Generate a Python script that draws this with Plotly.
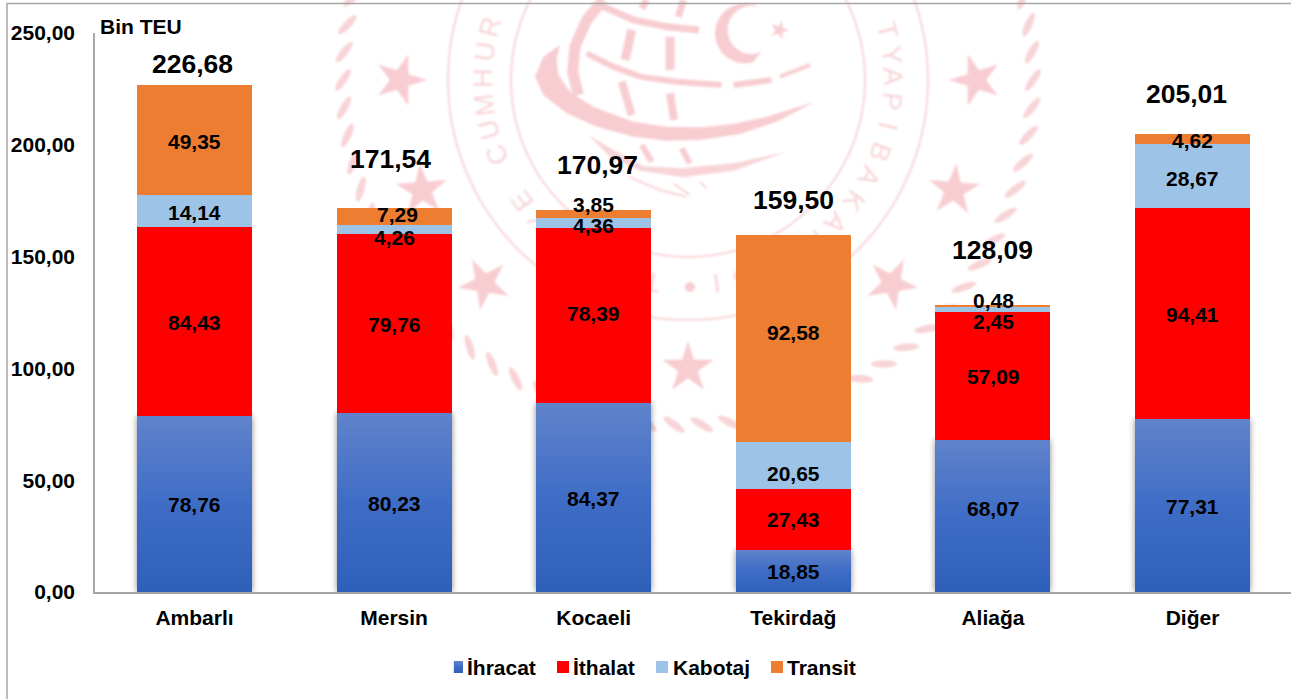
import math
import plotly.graph_objects as go

categories = ["Ambarlı", "Mersin", "Kocaeli", "Tekirdağ", "Aliağa", "Diğer"]
ihracat = [78.76, 80.23, 84.37, 18.85, 68.07, 77.31]
ithalat = [84.43, 79.76, 78.39, 27.43, 57.09, 94.41]
kabotaj = [14.14, 4.26, 4.36, 20.65, 2.45, 28.67]
transit = [49.35, 7.29, 3.85, 92.58, 0.48, 4.62]
totals = [226.68, 171.54, 170.97, 159.50, 128.09, 205.01]
series_names = ["İhracat", "İthalat", "Kabotaj", "Transit"]
series_colors = ["#3F6DC6", "#FF0000", "#9DC3E6", "#ED7D31"]
series_values = [ihracat, ithalat, kabotaj, transit]

# pixel nudges of the hand-placed labels in the original (down = positive)
label_down = [
    [1, 1.5, 1, 1, -7, 1],
    [1, 1, -2, 0.5, 0.5, 1],
    [1, 8, 2, 8, 12, 3],
    [1.5, -2, -10, -6, -6, 1.5],
]
label_right = [
    [0, 0, 0, 0, 1, 0],
    [0, 0, 0, 0, 1, 0],
    [0, 0, 0, 0, 1, 0],
    [0, 3, 0, 0, 1, 0],
]
total_up = [21, 49, 45, 35, 56, 40]
total_right = [-2, -4, 4, 0, 0, -6]

W, H = 1291, 699
L, T, B = 95, 33, 592
FONT = "Liberation Sans, Arial, sans-serif"
PINK = "#F8CDD1"
PINK2 = "#F8D4D7"


def fx(px):
    return (px - L) / (W - L)


def fy(py):
    return (B - py) / (B - T)


def path(points, close=True):
    s = "M" + " L".join(f"{fx(x):.5f},{fy(y):.5f}" for x, y in points)
    return s + (" Z" if close else "")


shapes = []


def poly(points, color=PINK):
    shapes.append(dict(type="path", xref="paper", yref="paper", layer="below", path=path(points),
                       fillcolor=color, line=dict(width=0)))


def stroke(points, width, color=PINK, layer="below"):
    shapes.append(dict(type="path", xref="paper", yref="paper", layer=layer, path=path(points, False),
                       fillcolor="rgba(0,0,0,0)", line=dict(color=color, width=width)))


def arc(cx, cy, r, a0, a1, n=60):
    return [(cx + r * math.cos(math.radians(a0 + (a1 - a0) * i / n)),
             cy + r * math.sin(math.radians(a0 + (a1 - a0) * i / n))) for i in range(n + 1)]


def star(cx, cy, R, rot):
    pts = []
    for i in range(10):
        a = math.radians(-90 + rot + 36 * i)
        r = R if i % 2 == 0 else R * 0.38
        pts.append((cx + r * math.cos(a), cy + r * math.sin(a)))
    return pts


def z(points):
    return [(500 + x / 3, y / 3) for x, y in points]


# watermark emblem
CX, CY = 688, 80
stroke(arc(CX, CY, 240, 0, 360, 180), 2, PINK2)
stroke(arc(CX, CY, 177, 0, 360, 180), 2, PINK2)
for k in range(16):
    th = 22.5 * k
    poly(star(CX + 288 * math.cos(math.radians(th)), CY + 288 * math.sin(math.radians(th)), 27, th - 90))
for k in range(78):
    th = k * 360 / 78
    c = (CX + 345 * math.cos(math.radians(th)), CY + 345 * math.sin(math.radians(th)))
    tilt = th + 90 + 34
    pts = []
    for j in range(16):
        a = 2 * math.pi * j / 16
        u, v = 13 * math.cos(a), 3.8 * math.sin(a)
        t = math.radians(tilt)
        pts.append((c[0] + u * math.cos(t) - v * math.sin(t), c[1] + u * math.sin(t) + v * math.cos(t)))
    poly(pts, PINK2)

ring_letters = [("T", 100), ("Ü", 107.7), ("R", 115), ("K", 122), ("İ", 129), ("Y", 136.7), ("E", 144),
                ("C", 158.6), ("U", 166), ("M", 173), ("H", 180.5), ("U", 188), ("R", 195),
                ("T", -14), ("Y", -7), ("A", -1), ("P", 6), ("I", 13), ("B", 20.5), ("A", 28),
                ("K", 36), ("A", 44), ("N", 52), ("L", 60), ("I", 67), ("Ğ", 74.5), ("I", 82)]
for ch, th in ring_letters:
    px = CX + 208 * math.cos(math.radians(th))
    py = CY + 208 * math.sin(math.radians(th))
    shapes.append(dict(type="rect", xref="paper", yref="paper", layer="below",
                       x0=fx(px - 10), x1=fx(px + 10), y0=fy(py + 10), y1=fy(py - 10),
                       fillcolor="rgba(0,0,0,0)", line=dict(width=0),
                       label=dict(text=ch, textangle=th + 90, textposition="middle center",
                                  font=dict(family=FONT, size=27, color=PINK2))))
poly(arc(690, 287, 5, 0, 360, 24))

# globe and crescents
poly(z([(180, 135), (130, 170), (105, 230), (130, 285), (200, 340), (290, 380), (400, 410), (500, 422),
        (600, 420), (720, 402), (830, 365), (945, 305), (800, 350), (700, 372), (600, 382), (500, 380),
        (400, 365), (280, 320), (210, 275), (175, 225), (170, 175)]))
poly(z([(265, 405), (330, 470), (420, 512), (550, 532), (700, 512), (860, 455), (700, 490), (540, 505),
        (430, 498), (340, 450)]), PINK2)
stroke(z([(260, 160), (340, 200), (420, 230), (530, 245), (665, 255)]), 6)
stroke(z([(700, 255), (815, 240)]), 6)
stroke(z([(840, 230), (930, 195)]), 4)
stroke(z([(235, 285), (218, 215), (225, 140), (260, 60), (310, 0)]), 11)
stroke(z([(310, 20), (400, 60), (500, 80), (597, 90)]), 7)
stroke(z([(395, 90), (375, 180)]), 9)
stroke(z([(510, 110), (510, 210)]), 9)
stroke(z([(365, 245), (395, 345)]), 8)
stroke(z([(510, 280), (522, 360)]), 8)
stroke(z([(440, 0), (425, 25)]), 7)
stroke(z([(550, 0), (535, 50)]), 7)
stroke(z([(425, 435), (455, 485)]), 6)
stroke(z([(545, 445), (570, 490)]), 6)
stroke(z([(385, 530), (480, 570), (560, 590)]), 2, PINK2)
stroke(z([(520, 550), (570, 585)]), 2, PINK2)
stroke(z([(600, 545), (620, 565)]), 2, PINK2)
poly(arc(500 + 735 / 3, 100 / 3, 30, -75, -285, 40) + arc(500 + 755 / 3, 90 / 3, 24, 65, 295, 40))
poly(star(500 + 838 / 3, 90 / 3, 10, 18))

# outer frame
stroke([(7, 699), (7, 3.5), (1291, 3.5)], 1.5, "#A6A6A6", layer="above")

fig = go.Figure()
for name, color, vals in zip(series_names, series_colors, series_values):
    fig.add_trace(go.Bar(name=name, x=categories, y=vals, marker=dict(color=color, line=dict(width=0)),
                         width=0.576, hoverinfo="name+y"))

annotations = []
base = [0] * len(categories)
for vals, downs, rights in zip(series_values, label_down, label_right):
    for i, v in enumerate(vals):
        annotations.append(dict(x=categories[i], y=base[i] + v / 2, text=f"<b>{v:.2f}</b>".replace(".", ","),
                                showarrow=False, yshift=-downs[i], xshift=rights[i],
                                font=dict(family=FONT, size=21, color="#000000")))
        base[i] += v
for i, v in enumerate(totals):
    annotations.append(dict(x=categories[i], y=v, text=f"<b>{v:.2f}</b>".replace(".", ","), showarrow=False,
                            xshift=total_right[i], yshift=total_up[i],
                            font=dict(family=FONT, size=26.5, color="#000000")))
annotations.append(dict(xref="paper", yref="paper", x=fx(98), y=fy(26), xanchor="left", yanchor="middle",
                        text="<b>Bin TEU</b>", showarrow=False,
                        font=dict(family=FONT, size=21, color="#000000")))

fig.update_layout(
    width=W, height=H, autosize=False,
    margin=dict(l=L, r=0, t=T, b=H - B, pad=0),
    barmode="stack", separators=",.",
    paper_bgcolor="white", plot_bgcolor="rgba(0,0,0,0)",
    font=dict(family=FONT, color="#000000"),
    showlegend=True,
    legend=dict(orientation="h", x=0.3, y=-0.11, xanchor="left", yanchor="top", traceorder="normal",
                font=dict(family=FONT, size=21, weight="bold", color="#000000"),
                bgcolor="rgba(0,0,0,0)"),
    xaxis=dict(type="category", categoryorder="array", categoryarray=categories,
               range=[-0.4985, 5.4935], showgrid=False, showline=True, linecolor="#A6A6A6", linewidth=1.5,
               ticks="", ticklabelstandoff=6,
               tickfont=dict(family=FONT, size=21, weight="bold", color="#000000")),
    yaxis=dict(range=[0, 250], tickvals=[0, 50, 100, 150, 200, 250], tickformat=".2f", showgrid=False,
               showline=True, linecolor="#A6A6A6", linewidth=1.5, ticks="", ticklabelstandoff=14,
               tickfont=dict(family=FONT, size=21, weight="bold", color="#000000")),
    shapes=shapes,
    annotations=annotations,
)

post = """
document.body.style.margin = '0';
document.body.style.overflow = 'hidden';
var gd = document.getElementById('{plot_id}');
var svg = gd.querySelector('svg.main-svg');
var ns = 'http://www.w3.org/2000/svg';
var defs = svg.querySelector('defs') || svg.insertBefore(document.createElementNS(ns,'defs'), svg.firstChild);
var lg = document.createElementNS(ns,'linearGradient');
lg.setAttribute('id','ihrGrad'); lg.setAttribute('x1','0'); lg.setAttribute('y1','0');
lg.setAttribute('x2','0'); lg.setAttribute('y2','1');
[['0','#6083CB'],['0.5','#3F6DC6'],['1','#2F60B9']].forEach(function(s){
  var st = document.createElementNS(ns,'stop');
  st.setAttribute('offset',s[0]); st.setAttribute('stop-color',s[1]); lg.appendChild(st);
});
defs.appendChild(lg);
var tr = gd.querySelector('.barlayer .trace');
tr.querySelectorAll('path').forEach(function(p){
  p.style.fill = 'url(#ihrGrad)';
  p.style.filter = 'drop-shadow(0 0 3px rgba(0,0,0,0.45))';
});
gd.querySelectorAll('.layer-below .shapelayer').forEach(function(s){ s.style.filter = 'blur(0.9px)'; });
var targetSwatch = [451, 557, 656, 771], targetText = [467, 573, 673, 787];
gd.querySelectorAll('.legend .traces').forEach(function(g, i){
  var sw = g.querySelector('.legendpoints path');
  if (i === 0) sw.style.fill = 'url(#ihrGrad)';
  var r = sw.getBoundingClientRect();
  var m = (g.getAttribute('transform') || '').match(/translate\\(([-\\d.]+)[ ,]*([-\\d.]+)?/);
  var x = parseFloat(m[1]), y = parseFloat(m[2] || 0);
  x += targetSwatch[i] - r.left;
  y += 667 - (r.top + r.bottom) / 2;
  g.setAttribute('transform', 'translate(' + x + ',' + y + ')');
  var t = g.querySelector('.legendtext');
  var tr2 = t.getBoundingClientRect();
  t.setAttribute('x', parseFloat(t.getAttribute('x')) + targetText[i] - tr2.left);
});
"""
fig.write_html("out.html", post_script=post, config={"displayModeBar": False})
